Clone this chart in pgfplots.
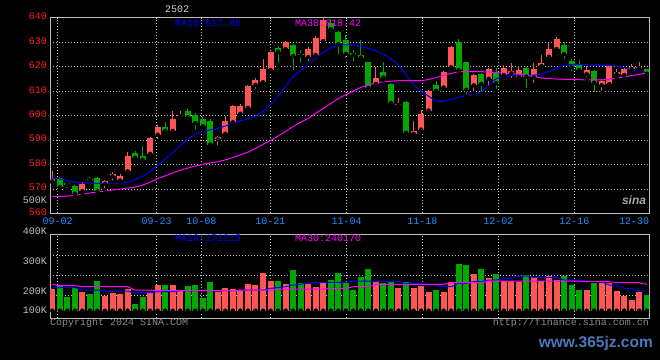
\documentclass[border=0pt]{standalone}
\usepackage{fontspec}
\setmainfont{Liberation Mono}
\newfontfamily\wmfont{Liberation Sans}
\usepackage{pgfplots}
\pgfplotsset{compat=1.18}
\usepackage{pgfplotstable}
\definecolor{upc}{RGB}{255,85,85}
\definecolor{dnc}{RGB}{0,168,0}
\definecolor{matenc}{RGB}{0,0,255}
\definecolor{mathirtyc}{RGB}{255,0,255}
\definecolor{gridc}{RGB}{200,200,200}
\definecolor{axc}{RGB}{190,190,190}
\definecolor{pricec}{RGB}{255,30,30}
\definecolor{datec}{RGB}{30,144,255}
\definecolor{volc}{RGB}{192,192,192}
\definecolor{copyc}{RGB}{140,140,140}
\definecolor{wmc}{RGB}{74,120,184}
\newcommand\lbl{\fontsize{10bp}{12bp}\selectfont}

\pgfplotstableread{
i o h l c v
0 573.1 577.2 572.7 574.1 206.7
1 574.5 575.0 569.0 570.8 223.3
2 572.4 572.7 569.7 571.8 166.7
3 571.3 571.8 567.0 568.1 211.7
4 569.1 573.0 568.3 572.2 195.0
5 574.0 574.8 571.5 573.5 183.3
6 574.5 575.0 567.0 569.0 248.3
7 572.2 573.7 569.5 573.4 173.3
8 575.2 577.0 572.6 576.3 186.7
9 573.5 576.0 572.7 575.4 183.3
10 577.2 585.3 575.8 583.5 208.3
11 584.9 585.5 582.3 582.8 133.3
12 583.5 587.8 580.0 582.0 170.0
13 584.4 591.2 584.0 591.0 195.0
14 592.2 596.2 589.5 595.5 228.3
15 595.5 597.6 592.9 593.8 228.3
16 593.8 602.0 593.2 598.6 228.3
17 599.8 602.0 599.0 600.3 200.0
18 602.0 602.7 597.2 599.3 223.3
19 600.3 601.0 593.5 597.0 228.3
20 598.5 599.5 594.5 595.7 165.0
21 598.0 598.7 587.6 588.2 243.3
22 590.3 591.5 587.0 591.1 195.0
23 592.6 599.7 591.6 597.7 215.0
24 597.3 604.5 597.0 603.8 206.7
25 600.8 604.6 599.3 603.8 203.3
26 603.2 612.6 602.9 612.2 233.3
27 612.6 615.6 610.2 614.4 228.3
28 613.7 623.2 613.0 619.1 290.0
29 618.7 626.2 617.8 625.9 248.3
30 627.6 628.5 620.8 626.2 248.3
31 627.3 630.7 625.5 630.3 233.3
32 628.9 629.2 617.7 624.4 303.3
33 625.3 626.9 620.8 624.7 236.7
34 624.0 628.2 621.5 627.2 233.3
35 624.8 632.7 624.4 631.9 220.0
36 630.5 639.9 630.3 639.1 240.0
37 638.0 639.5 633.5 635.4 253.3
38 634.1 634.5 624.2 629.2 290.0
39 630.8 633.0 622.8 625.3 240.0
40 625.8 626.9 621.2 624.8 203.3
41 624.8 631.0 621.9 623.8 270.0
42 621.9 622.1 611.0 611.3 308.3
43 613.0 620.1 612.6 615.6 245.0
44 617.8 621.9 614.7 615.6 240.0
45 613.0 613.3 604.5 605.2 245.0
46 604.3 607.2 602.5 604.7 215.0
47 605.4 606.1 592.0 593.0 245.0
48 592.6 597.7 592.3 593.6 215.0
49 594.3 602.5 593.4 600.7 225.0
50 602.1 610.6 601.5 610.2 195.0
51 612.6 614.0 608.3 610.2 203.3
52 611.5 618.3 611.0 617.8 195.0
53 619.8 628.5 619.1 628.2 245.0
54 630.0 631.4 618.1 618.7 333.3
55 621.9 622.1 607.9 610.6 328.3
56 612.4 617.0 609.2 616.7 283.3
57 617.0 617.4 608.6 613.0 308.3
58 615.1 619.4 611.3 619.1 265.0
59 617.8 619.4 610.2 613.3 283.3
60 616.6 620.7 615.9 619.6 248.3
61 617.3 621.4 614.6 618.4 248.3
62 615.9 620.3 614.6 618.7 245.0
63 619.6 619.8 610.5 615.9 278.3
64 615.7 621.4 612.5 619.0 270.0
65 620.3 624.8 620.1 621.7 248.3
66 624.1 629.9 622.8 627.3 273.3
67 627.3 632.3 626.2 631.4 253.3
68 628.9 630.0 622.5 625.2 273.3
69 622.4 623.0 617.3 619.8 228.3
70 621.0 622.8 617.6 618.7 203.3
71 617.0 620.3 614.9 618.7 203.3
72 618.3 618.7 608.7 613.5 240.0
73 612.5 614.9 609.4 614.3 240.0
74 612.9 620.4 612.5 620.3 236.7
75 617.0 619.0 615.3 618.0 198.3
76 616.6 619.4 615.0 619.1 175.0
77 619.1 621.1 617.6 620.0 153.3
78 619.4 621.8 618.3 620.0 191.7
79 618.9 619.3 615.5 617.2 178.3
}\candles

\pgfplotstableread{
i m
0 574.6
1 574.2
2 573.4
3 572.8
4 572.5
5 572.4
6 572.3
7 572.2
8 572.2
9 572.3
10 572.8
11 573.8
12 575.2
13 577.2
14 579.6
15 582.3
16 585.0
17 587.7
18 590.4
19 592.4
20 593.6
21 594.2
22 594.8
23 595.8
24 596.9
25 598.0
26 598.8
27 599.9
28 601.8
29 604.6
30 608.0
31 612.0
32 616.0
33 618.5
34 621.0
35 623.7
36 626.0
37 627.8
38 628.8
39 629.0
40 628.9
41 628.4
42 627.5
43 626.5
44 625.2
45 623.2
46 620.8
47 616.8
48 612.5
49 610.0
50 608.0
51 606.0
52 605.8
53 606.8
54 607.6
55 608.2
56 608.6
57 609.5
58 612.5
59 615.2
60 616.0
61 616.4
62 616.6
63 616.6
64 616.6
65 617.0
66 618.0
67 619.5
68 620.6
69 621.0
70 620.9
71 620.8
72 620.7
73 620.6
74 620.5
75 620.3
76 619.7
77 618.6
78 618.0
79 617.7
}\maten

\pgfplotstableread{
i m
0 567.0
1 567.0
2 567.1
3 567.4
4 567.9
5 568.4
6 568.8
7 569.2
8 569.6
9 570.0
10 570.4
11 570.8
12 571.6
13 572.8
14 574.3
15 575.4
16 576.6
17 577.7
18 578.6
19 579.4
20 580.1
21 580.7
22 581.2
23 581.9
24 582.9
25 584.0
26 585.1
27 586.6
28 588.3
29 589.8
30 591.7
31 593.6
32 595.6
33 597.3
34 598.9
35 601.0
36 603.0
37 605.0
38 607.0
39 608.6
40 610.0
41 611.6
42 612.6
43 613.4
44 613.9
45 614.1
46 614.3
47 614.3
48 614.3
49 614.3
50 614.8
51 615.6
52 616.5
53 617.3
54 618.0
55 618.0
56 618.0
57 618.0
58 617.9
59 617.6
60 617.4
61 617.3
62 617.0
63 616.6
64 616.0
65 615.4
66 615.2
67 615.0
68 614.9
69 614.9
70 614.8
71 614.6
72 614.6
73 614.6
74 614.9
75 615.3
76 615.9
77 616.4
78 616.9
79 617.5
}\mathirty

\pgfplotstableread{
i m
0 215
3 215
4 203.3
6 203.3
7 198.3
10 198.3
11 190
13 190
14 195
16 195
17 200
24 200
25 203.3
28 203.3
29 211.7
31 220
32 228.3
34 236.7
36 241.7
39 241.7
40 248.3
42 248.3
43 245
46 245
47 236.7
49 236.7
50 228.3
51 228.3
52 220
53 220
54 236.7
55 236.7
56 245
57 245
58 253.3
59 253.3
60 261.7
61 261.7
62 273.3
63 273.3
64 266.7
67 266.7
68 253.3
70 253.3
71 245
73 245
74 228.3
75 228.3
76 211.7
77 211.7
78 198.3
79 198.3
}\vmaten

\pgfplotstableread{
i m
0 231.7
1 225
3 225
4 220
10 220
11 203.3
13 203.3
14 200
24 200
25 203.3
29 203.3
30 208.3
36 208.3
37 211.7
39 211.7
40 220
42 220
43 231.7
52 231.7
53 240
57 240
58 248.3
70 248.3
71 245
74 245
75 240
78 240
79 231.7
}\vmathirty

\pgfplotsset{
  sinabase/.style={
    scale only axis, width=599.3bp,
    xmin=-0.306, xmax=79.33,
    axis line style={draw=axc, line width=1bp},
    major tick length=0pt,
    grid=major,
    major grid style={draw=gridc, line width=0.8bp, dash pattern=on 1bp off 2bp},
    xtick={0.72,13.87,19.8,28.97,39.12,49.17,59.27,69.37},
    tick label style={font=\lbl},
  },
}

\begin{document}
\begin{tikzpicture}[x=1bp,y=1bp]
\fill[black] (0,0) rectangle (660,360);
\useasboundingbox (0,0) rectangle (660,360);

% price panel
\begin{axis}[sinabase,
  at={(50bp,342.1bp)}, anchor=north west, height=195.6bp,
  ymin=560, ymax=640,
  ytick={560,570,580,590,600,610,620,630,640},
  yticklabels={560,570,580,590,600,610,620,630,640},
  yticklabel style={text=pricec, anchor=east, inner sep=0pt, xshift=-3bp, yshift=1.5bp},
  xticklabels={09-02,09-23,10-08,10-21,11-04,11-18,12-02,12-16},
  xticklabel style={text=datec, anchor=north, inner sep=0pt, yshift=-4bp},
]
% wicks
\addplot[only marks, mark=none, forget plot,
  restrict expr to domain={\thisrow{c}-\thisrow{o}}{0:1000},
  error bars/.cd, y dir=plus, y explicit, error mark=none,
  error bar style={draw=upc, line width=1bp}]
  table[x=i, y=l, y error plus expr={\thisrow{h}-\thisrow{l}}] {\candles};
\addplot[only marks, mark=none, forget plot,
  restrict expr to domain={\thisrow{c}-\thisrow{o}}{-1000:-0.001},
  error bars/.cd, y dir=plus, y explicit, error mark=none,
  error bar style={draw=dnc, line width=1bp}]
  table[x=i, y=l, y error plus expr={\thisrow{h}-\thisrow{l}}] {\candles};
% bodies
\addplot[only marks, mark=none, forget plot,
  restrict expr to domain={\thisrow{c}-\thisrow{o}}{0:1000},
  error bars/.cd, y dir=plus, y explicit, error mark=none,
  error bar style={draw=upc, line width=6bp}]
  table[x=i, y=o, y error plus expr={max(\thisrow{c}-\thisrow{o},0.4)}] {\candles};
\addplot[only marks, mark=none, forget plot,
  restrict expr to domain={\thisrow{c}-\thisrow{o}}{-1000:-0.001},
  error bars/.cd, y dir=plus, y explicit, error mark=none,
  error bar style={draw=dnc, line width=6bp}]
  table[x=i, y=c, y error plus expr={max(\thisrow{o}-\thisrow{c},0.4)}] {\candles};
% moving averages
\addplot[matenc, line width=1bp, mark=none] table[x=i, y=m] {\maten};
\addplot[mathirtyc, line width=1bp, mark=none] table[x=i, y=m] {\mathirty};
\end{axis}

% volume panel
\begin{axis}[sinabase,
  at={(50bp,125.7bp)}, anchor=north west, height=84bp,
  ymin=62, ymax=482,
  ytick={177,278.5,378.5}, yticklabels={},
  xticklabels={},
]
\addplot[only marks, mark=none, forget plot,
  restrict expr to domain={\thisrow{c}-\thisrow{o}}{0:1000},
  error bars/.cd, y dir=plus, y explicit, error mark=none,
  error bar style={draw=upc, line width=6bp}]
  table[x=i, y expr=100, y error plus expr={\thisrow{v}-100}] {\candles};
\addplot[only marks, mark=none, forget plot,
  restrict expr to domain={\thisrow{c}-\thisrow{o}}{-1000:-0.001},
  error bars/.cd, y dir=plus, y explicit, error mark=none,
  error bar style={draw=dnc, line width=6bp}]
  table[x=i, y expr=100, y error plus expr={\thisrow{v}-100}] {\candles};
\addplot[matenc, line width=1bp, mark=none] table[x=i, y=m] {\vmaten};
\addplot[mathirtyc, line width=1bp, mark=none] table[x=i, y=m] {\vmathirty};
\end{axis}

% texts
\node[text=datec, font=\lbl, anchor=north east, inner sep=0pt] at (649.3,142.3) {12-30};
\node[text=volc, font=\lbl, anchor=east, inner sep=0pt] at (47,160) {500K};
\node[text=gray!35!white, font=\lbl, anchor=center, inner sep=0pt] at (177,351) {2502};
\node[text=matenc, font=\lbl, anchor=west, inner sep=0pt] at (175,337) {MA10:617.86};
\node[text=mathirtyc, font=\lbl, anchor=west, inner sep=0pt] at (295,337) {MA30:618.42};
\node[text=matenc, font=\lbl, anchor=west, inner sep=0pt] at (175,122) {MA10:171215};
\node[text=mathirtyc, font=\lbl, anchor=west, inner sep=0pt] at (295,122) {MA30:240170};
\node[text=volc, font=\lbl, anchor=east, inner sep=0pt] at (47,129) {400K};
\node[text=volc, font=\lbl, anchor=east, inner sep=0pt] at (47,99.3) {300K};
\node[text=volc, font=\lbl, anchor=east, inner sep=0pt] at (47,69.3) {200K};
\node[text=volc, font=\lbl, anchor=east, inner sep=0pt] at (47,50) {100K};
\node[text=copyc, font=\lbl, anchor=west, inner sep=0pt] at (50,36.7) {Copyright 2024 SINA.COM};
\node[text=copyc, font=\lbl, anchor=east, inner sep=0pt] at (649,36.7) {http://finance.sina.com.cn};
\node[text=gray!70!white, font={\wmfont\bfseries\itshape\fontsize{12bp}{12bp}\selectfont}, anchor=center, inner sep=0pt] at (634,160) {sina};
\node[text=wmc, font={\wmfont\bfseries\fontsize{15.5bp}{16bp}\selectfont}, anchor=east, inner sep=0pt] at (653,17) {www.365jz.com};
\end{tikzpicture}
\end{document}
